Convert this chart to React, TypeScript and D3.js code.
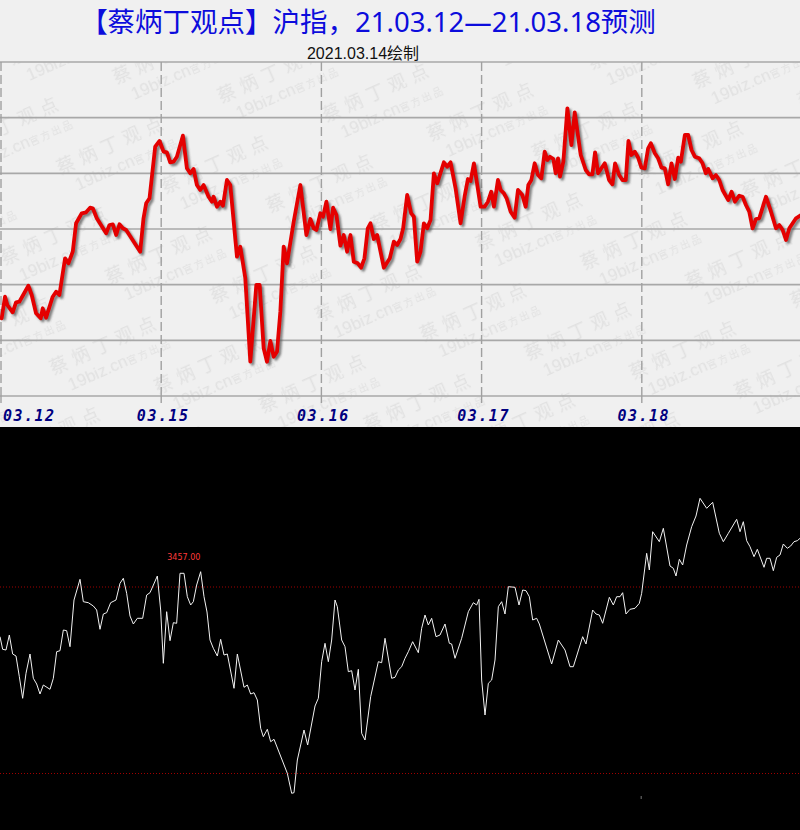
import React from 'react';
import * as d3 from 'd3';

const W = 800;
const H = 830;

// x axis: trading minutes since 03.12 open (240 per day); labels at day starts
const dayLabels = ['03.12', '03.15', '03.16', '03.17', '03.18'];
const dayStarts = [0, 240, 480, 720, 960];

// Top chart: forecast line (minutes, index value)
const fcMinutes = [
  1, 6, 9.5, 17.5, 22.5, 27.5, 41, 46, 52.5, 59.5, 62.5, 67.5, 77.5, 82.5, 87.5, 96, 101, 107.5, 112.5, 121,
  127.5, 133.5, 137.5, 143.5, 157.5, 162.5, 167.5, 172.5, 177.5, 182.5, 187.5, 208.5, 213.5, 217.5, 222.5, 231,
  237.5, 243.5, 248.5, 253.5, 258.5, 263.5, 272.5, 278.5, 283.5, 288.5, 293.5, 298.5, 303.5, 311, 316, 318.5,
  323.5, 328.5, 332.5, 338.5, 343.5, 353.5, 358.5, 366, 373.5, 382.5, 387.5, 393.5, 398.5, 403.5, 408.5, 413.5,
  418.5, 423.5, 428.5, 438.5, 448.5, 457.5, 463.5, 468.5, 472.5, 478.5, 482.5, 487.5, 493.5, 497.5, 502.5, 508.5,
  513.5, 518.5, 523.5, 528.5, 534.5, 539.5, 544.5, 549.5, 553.5, 558.5, 563.5, 573.5, 582.5, 588.5, 593.5, 598.5,
  602.5, 608.5, 614.5, 618.5, 623.5, 628.5, 633.5, 638.5, 643.5, 648.5, 653.5, 663.5, 668.5, 673.5, 681, 688.5,
  694.5, 699.5, 703.5, 708.5, 718.5, 724.5, 729.5, 734.5, 738.5, 744.5, 748.5, 753.5, 757.5, 763.5, 769.5, 774.5,
  781, 786, 790, 794.5, 799.5, 804.5, 809.5, 814.5, 818.5, 822.5, 827.5, 831, 834.5, 837.5, 842.5, 848.5, 854.5,
  859.5, 868.5, 876, 881, 886, 890, 894.5, 904.5, 911, 916, 920, 926, 931, 936, 940, 944.5, 949.5, 954.5, 959.5,
  964.5, 969.5, 973.5, 979.5, 984.5, 989.5, 994.5, 999.5, 1004.5, 1009.5, 1014.5, 1018.5, 1024.5, 1029.5, 1034.5,
  1039.5, 1046, 1051, 1056, 1059.5, 1066, 1071, 1076, 1081, 1089.5, 1094.5, 1099.5, 1106, 1111, 1116, 1121, 1126,
  1131, 1136, 1146, 1153.5, 1161, 1166, 1171, 1176, 1181, 1191, 1198.5,
];
const fcValues = [
  3377.7, 3399.3, 3391, 3383.7, 3393.7, 3394.3, 3410.3, 3401, 3382.7, 3377.7, 3387.7, 3378.3, 3399.3, 3404.3, 3401,
  3437.7, 3432.7, 3444.3, 3472.7, 3482.7, 3483.7, 3488.3, 3487.7, 3477.7, 3462.7, 3471, 3471.7, 3461, 3471.7,
  3467.7, 3466, 3444.3, 3477.7, 3492.7, 3497.7, 3549.3, 3555, 3544.3, 3543.7, 3533.7, 3534.3, 3539.3, 3560.3,
  3527.7, 3522.7, 3527, 3511, 3506, 3511, 3499.3, 3494.3, 3499.3, 3489.3, 3494.3, 3490.3, 3516, 3511, 3439.3,
  3449.3, 3417.7, 3334.3, 3411, 3411, 3347.7, 3334.3, 3355, 3339.3, 3344.3, 3384.3, 3449.3, 3432.7, 3474.3, 3511,
  3461, 3477, 3467.7, 3466, 3482.7, 3479.3, 3494.3, 3467, 3488.3, 3481, 3450.3, 3461, 3444.3, 3461, 3434.3, 3432.7,
  3428.3, 3437.7, 3467.7, 3472.7, 3457, 3461, 3428.3, 3437.7, 3454.3, 3451, 3457, 3467.7, 3501, 3482.7, 3479.3,
  3434.3, 3444.3, 3472.7, 3467.7, 3476, 3522.7, 3512.7, 3533.7, 3529.3, 3533.7, 3507.7, 3472.7, 3499.3, 3517, 3515,
  3532.7, 3489.3, 3489.3, 3494.3, 3504.3, 3489.3, 3516, 3506, 3502.7, 3497.7, 3484.3, 3478.3, 3506, 3501, 3489.3,
  3511, 3516, 3532.7, 3521, 3517.7, 3544.3, 3536, 3539.3, 3537, 3522.7, 3537.7, 3519.3, 3534.3, 3587.7, 3551,
  3583.7, 3541, 3526, 3521.7, 3521.7, 3543.7, 3522.7, 3532.7, 3516, 3511.7, 3532.7, 3521, 3516, 3516, 3555, 3541,
  3544.3, 3538.3, 3528.3, 3527.7, 3547.7, 3552.7, 3542.7, 3537.7, 3528.3, 3527.7, 3511.7, 3532.7, 3517, 3538.3,
  3534.3, 3561, 3561, 3546, 3539.3, 3537.7, 3532.7, 3522.7, 3527, 3517.7, 3521, 3516, 3506, 3496, 3504.3, 3494.3,
  3500.3, 3499.3, 3491, 3484.3, 3467.7, 3477, 3477.7, 3499.3, 3484.3, 3467.7, 3471, 3466, 3456, 3467.7, 3477.7,
  3481,
];

// Bottom chart: actual index line (minutes, index value)
const acMinutes = [
  0, 4, 9, 14, 19, 24, 29, 34, 39, 45, 50, 55, 60, 65, 75, 80, 85, 90, 95, 100, 105, 111, 120, 125, 132.5, 140,
  145, 150, 155, 160, 166, 174, 180, 185, 190, 195, 200, 206, 214, 220, 225, 236, 241, 245, 250, 255, 260, 265,
  270, 276, 281, 286, 290, 295, 301, 306, 310.5, 315, 320, 326, 331, 336, 341, 351, 356, 366, 371, 376, 381, 386,
  391, 395, 401, 406, 411, 431, 437.5, 441, 446, 456, 461.5, 472.5, 477.5, 482.5, 487.5, 492.5, 497.5, 502.5, 506,
  512.5, 517.5, 522.5, 527.5, 532.5, 537.5, 542.5, 547.5, 556, 567.5, 572.5, 577.5, 587.5, 592.5, 597.5, 602.5,
  607.5, 612.5, 619, 627.5, 632.5, 637.5, 642.5, 647.5, 654, 660, 667.5, 674, 677.5, 682.5, 692.5, 702.5, 710, 715,
  718.5, 722.5, 727.5, 732.5, 737.5, 742.5, 747.5, 752.5, 757.5, 762.5, 772.5, 778.5, 784, 789, 794, 799, 805, 809,
  827.5, 837.5, 847.5, 855, 860, 874, 879, 889, 894, 899, 904, 914, 920, 925, 930, 934, 939, 945, 952.5, 959, 962.5,
  970, 974, 979, 989, 995, 1005, 1010, 1014, 1019, 1024, 1030, 1037.5, 1044, 1050, 1060, 1069, 1079, 1085, 1092.5,
  1105, 1110, 1115, 1120, 1125, 1131, 1136, 1146, 1150, 1155, 1160, 1165, 1170, 1175, 1181, 1186, 1191, 1196, 1200,
];
const acValues = [
  3392.3, 3379.7, 3379, 3394, 3375, 3373, 3352.3, 3330.7, 3355.7, 3375, 3350.7, 3345, 3335, 3344, 3339.7, 3350.7,
  3377.3, 3378.3, 3399, 3398.3, 3382.3, 3429, 3449.7, 3427.3, 3426.3, 3423, 3419, 3399.7, 3415, 3416.3, 3426.3,
  3429, 3445.7, 3450.7, 3435.7, 3413, 3405, 3410.7, 3410.7, 3434, 3436.3, 3453, 3419, 3365.7, 3417.3, 3388.3,
  3406.3, 3405.7, 3455.7, 3455.7, 3432.3, 3424, 3427.3, 3444, 3457.3, 3432.3, 3417, 3389, 3380.7, 3373, 3389.7,
  3374, 3375, 3340.7, 3375, 3341.7, 3344, 3335, 3336.3, 3329, 3300.7, 3292.3, 3299.7, 3287.3, 3289.7, 3255.7,
  3235.7, 3236.3, 3269, 3299, 3284, 3323, 3330.7, 3367.3, 3385.7, 3367.3, 3389, 3429, 3422.3, 3389, 3382.3, 3357.3,
  3358.3, 3339, 3359.7, 3295.7, 3289, 3332.3, 3367.3, 3366.3, 3390.7, 3350.7, 3351.7, 3359, 3362.3, 3370.7, 3377.3,
  3387.3, 3376.3, 3400.7, 3414, 3404, 3410.7, 3392.3, 3394, 3405, 3385.7, 3385, 3370.7, 3390.7, 3417.3, 3426.3,
  3424, 3429.7, 3349, 3314, 3345.7, 3349, 3369, 3422.3, 3427.3, 3415, 3442.3, 3441.7, 3424, 3439, 3438.3, 3432.3,
  3409, 3410.7, 3405, 3365, 3389, 3379, 3362.3, 3362.3, 3392.3, 3385, 3419, 3415, 3414, 3405.7, 3431.7, 3424,
  3432.3, 3432.3, 3436.3, 3415, 3419.7, 3420.7, 3425.7, 3435.7, 3475.7, 3459, 3497.3, 3487.3, 3500.7, 3463,
  3460.7, 3453, 3469.7, 3464, 3484, 3502.3, 3513, 3530.7, 3520.7, 3526.7, 3495.7, 3487.3, 3495.7, 3509.7, 3497.3,
  3507.3, 3488.3, 3482.3, 3472.3, 3479.7, 3461.7, 3470.7, 3470.7, 3458.3, 3471.7, 3474, 3485, 3480.7, 3483,
  3487.3, 3488.3, 3490.7,
];

const refLevels = [3442, 3255.5];
const peakText = '3457.00';
const peakMinute = 275;
const peakValue = 3457;
const markMinute = 961;

const titleText = '【蔡炳丁观点】沪指，21.03.12—21.03.18预测';
const subtitleDate = '2021.03.14';
const subtitleSuffix = '绘制';
const wmName = '蔡炳丁观点';
const wmSite = '19biz.cn';
const wmTag = '官方出品';

export default function App() {
  const TOP_PANEL_H = 427;
  const plotTop = 62;
  const plotBottom = 396;

  const xTop = d3.scaleLinear().domain([0, 1200]).range([1, 802]);
  const yTop = d3.scaleLinear().domain([3300, 3634]).range([plotBottom, plotTop]);
  const xBot = d3.scaleLinear().domain([0, 1200]).range([0, 800]);
  const yBot = d3.scaleLinear().domain([3235, 3531]).range([794, 498]);

  const gridVals = d3.range(7).map((i) => 3300 + (i * 334) / 6);

  const fcData = fcMinutes.map((m, i) => [m, fcValues[i]] as [number, number]);
  const acData = acMinutes.map((m, i) => [m, acValues[i]] as [number, number]);

  const lineTop = d3
    .line<[number, number]>()
    .x((d) => xTop(d[0]))
    .y((d) => yTop(d[1]));
  const lineBot = d3
    .line<[number, number]>()
    .x((d) => xBot(d[0]))
    .y((d) => yBot(d[1]));

  const cjk = '"Noto Sans CJK SC", "Noto Sans", sans-serif';
  const mixed = '"Noto Sans", "Noto Sans CJK SC", sans-serif';
  const TW = 176;
  const TH = 120;
  const units: [number, number][] = [
    [0, 0],
    [TW, 0],
    [TW / 2, TH / 2],
    [-TW / 2, TH / 2],
    [TW / 2, -TH / 2],
    [-TW / 2, -TH / 2],
    [0, TH],
  ];

  return (
    <svg
      width={W}
      height={H}
      viewBox={`0 0 ${W} ${H}`}
      style={{ position: 'absolute', left: 0, top: 0, display: 'block' }}
    >
      <defs>
        <pattern
          id="wm"
          patternUnits="userSpaceOnUse"
          width={TW}
          height={TH}
          patternTransform="rotate(-24) translate(-20 40)"
        >
          {units.map(([ux, uy], k) => (
            <g key={k} transform={`translate(${ux}, ${uy})`} fill="#e1e1e1">
              <text x={4} y={24} fontSize={18} fontFamily={cjk} letterSpacing={6}>
                {wmName}
              </text>
              <text x={14} y={46} fontSize={17} fontFamily='"Liberation Sans", sans-serif'>
                {wmSite}
                <tspan fontSize={10} fontFamily={cjk} letterSpacing={2}>
                  {wmTag}
                </tspan>
              </text>
            </g>
          ))}
        </pattern>
        <filter id="shadowBlur" x="-5%" y="-5%" width="110%" height="110%">
          <feGaussianBlur stdDeviation="1" />
        </filter>
        <clipPath id="plotClip">
          <rect x={0} y={plotTop} width={W} height={TOP_PANEL_H - plotTop} />
        </clipPath>
      </defs>

      {/* Top panel */}
      <rect x={0} y={0} width={W} height={TOP_PANEL_H} fill="#f0f0f0" />
      <rect x={0} y={plotTop} width={W} height={TOP_PANEL_H - plotTop} fill="url(#wm)" />

      {/* horizontal grid */}
      {gridVals.map((v, i) => (
        <line
          key={`h${i}`}
          x1={0}
          x2={W}
          y1={yTop(v)}
          y2={yTop(v)}
          stroke="#a8a8a8"
          strokeWidth={1.6}
        />
      ))}
      {/* vertical dashed grid + ticks */}
      {dayStarts.map((m, i) => (
        <g key={`v${i}`}>
          <line
            x1={xTop(m)}
            x2={xTop(m)}
            y1={plotTop}
            y2={plotBottom}
            stroke="#a0a0a0"
            strokeWidth={1.4}
            strokeDasharray="9 4"
          />
          <line x1={xTop(m)} x2={xTop(m)} y1={plotBottom} y2={plotBottom + 7} stroke="#a0a0a0" strokeWidth={1.4} />
          <text
            x={xTop(m) + 2}
            y={421}
            textAnchor={i === 0 ? 'start' : 'middle'}
            fontFamily='"DejaVu Sans Mono", monospace'
            fontWeight="bold"
            fontStyle="italic"
            fontSize={15}
            letterSpacing={1.5}
            fill="#000080"
          >
            {dayLabels[i]}
          </text>
        </g>
      ))}

      {/* forecast line with shadow */}
      <g clipPath="url(#plotClip)">
        <path
          d={lineTop(fcData) || ''}
          transform="translate(2.2,2.2)"
          fill="none"
          stroke="#555"
          strokeOpacity={0.75}
          strokeWidth={3.6}
          strokeLinejoin="round"
          filter="url(#shadowBlur)"
        />
        <path
          d={lineTop(fcData) || ''}
          fill="none"
          stroke="#e40000"
          strokeWidth={3.8}
          strokeLinejoin="round"
          strokeLinecap="round"
        />
      </g>

      {/* titles */}
      <text x={368} y={31.5} textAnchor="middle" fontFamily={mixed} fontSize={27.5} fill="#0c0cdc">
        {titleText}
      </text>
      <text x={363} y={58.5} textAnchor="middle" fontSize={16} fill="#111">
        <tspan fontFamily='"Liberation Sans", Arial, sans-serif'>{subtitleDate}</tspan>
        <tspan fontFamily={cjk}>{subtitleSuffix}</tspan>
      </text>

      {/* Bottom panel */}
      <rect x={0} y={TOP_PANEL_H} width={W} height={H - TOP_PANEL_H} fill="#000" />
      {refLevels.map((v, i) => (
        <line
          key={`r${i}`}
          x1={0}
          x2={W}
          y1={yBot(v)}
          y2={yBot(v)}
          stroke="#a00000"
          strokeWidth={1}
          strokeDasharray="1 2"
        />
      ))}
      <path d={lineBot(acData) || ''} fill="none" stroke="#f2f2f2" strokeWidth={1} />
      <text
        x={xBot(peakMinute) + 0.5}
        y={yBot(peakValue) - 12.5}
        textAnchor="middle"
        fontFamily='"DejaVu Sans", sans-serif'
        fontSize={8}
        fill="#ff3a3a"
      >
        {peakText}
      </text>
      <rect x={xBot(markMinute)} y={796} width={1} height={3} fill="#777" />
    </svg>
  );
}
